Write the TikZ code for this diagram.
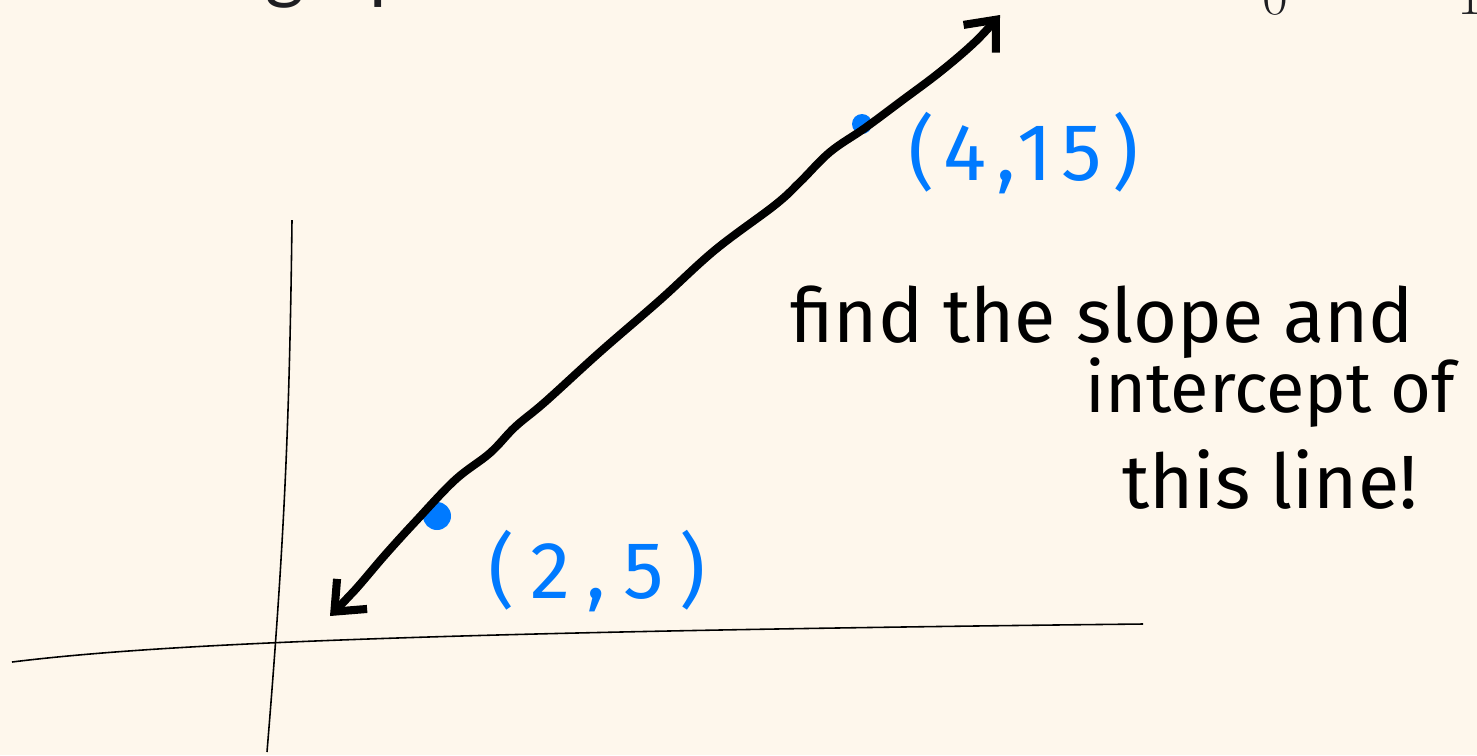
\documentclass[tikz,border=0pt]{standalone}
\usepackage{fontspec}
\usetikzlibrary{arrows.meta}
\newfontfamily\handfont{Fira Sans}
\newfontfamily\pagefont{Lato}
\definecolor{paper}{RGB}{254,247,236}
\definecolor{ptblue}{RGB}{0,122,255}
\definecolor{ink}{RGB}{30,30,34}

\begin{document}
\begin{tikzpicture}[
		x=0.02cm, y=-0.02cm,
		ax/.style = {draw=black, line width=0.9pt},
		ln/.style = {draw=black, line width=4.6pt, line cap=round, line join=round, {Straight Barb[length=0.5cm, width=0.85cm]}-{Straight Barb[length=0.5cm, width=0.85cm]}},
		dot/.style = {circle, fill=ptblue, inner sep=0pt},
		lbl/.style = {text=ptblue, inner sep=0pt, anchor=base west, font=\handfont\fontsize{46}{50}\selectfont},
		txt/.style = {text=black, inner sep=0pt, anchor=base west, font=\handfont\fontsize{43}{48}\selectfont},
		cut/.style = {text=ink, inner sep=0pt, anchor=base west}
		]
		
		%Paper
		\fill[paper]	(0, 0)	rectangle	(1477, 755);
		\useasboundingbox	(0, 0)	rectangle	(1477, 755);
		
		%Nodes
		\node[cut, font=\pagefont\fontsize{43}{48}\selectfont]	(head)	at	(265, -6)	{graph};
		\node[cut, font=\fontsize{32}{38}\selectfont]	(n0)	at	(1262, 14)	{0};
		\node[cut, font=\fontsize{32}{38}\selectfont]	(n1)	at	(1457, 14)	{1};
		\node[dot, minimum size=0.4cm]	(p1)	at	(862, 124)	{};
		\node[dot, minimum size=0.56cm]	(p2)	at	(437, 516)	{};
		\node[lbl]	(l1)	at	(908, 180)	{\addfontfeatures{LetterSpace=12}(4,15)};
		\node[lbl]	(l2)	at	(488, 598)	{\addfontfeatures{LetterSpace=20}(2,5)};
		\node[txt]	(q1)	at	(790, 342)	{find the slope and};
		\node[txt, font=\handfont\fontsize{40}{46}\selectfont]	(q2)	at	(1085, 412)	{intercept of};
		\node[txt]	(q3)	at	(1122, 508)	{this line!};
		\coordinate	(xL)	at	(12, 662);
		\coordinate	(xR)	at	(1143, 624);
		\coordinate	(yT)	at	(292, 220);
		\coordinate	(yB)	at	(267, 752);
		\coordinate	(tipA)	at	(330, 616);
		\coordinate	(tipB)	at	(1000, 15);
		
		%Lines
		\draw[ax]	(xL)	..	controls (150, 645) and (400, 632)	..	(xR);
		\draw[ax]	(yT)	to[bend left=2]	(yB);
		\draw[ln]	plot[smooth, tension=0.6] coordinates {(tipA) (355, 590) (385, 555) (415, 522) (455, 480) (490, 453) (515, 427) (545, 402) (600, 352) (660, 300) (715, 250) (775, 205) (800, 182) (830, 152) (865, 128) (900, 102) (940, 72) (975, 42) (tipB)};
	\end{tikzpicture}
\end{document}
